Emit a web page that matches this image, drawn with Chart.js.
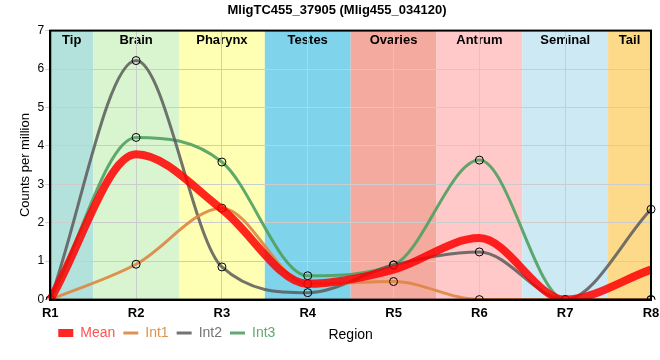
<!DOCTYPE html>
<html>
<head>
<meta charset="utf-8">
<script src="https://cdn.jsdelivr.net/npm/chart.js@4.4.0/dist/chart.umd.min.js"></script>
<style>
html, body { margin: 0; padding: 0; background: #fff; }
#wrap { width: 660px; height: 360px; }
</style>
</head>
<body>
<div id="wrap"><canvas id="chart"></canvas></div>
<script>
// DATA
const regions = ['R1', 'R2', 'R3', 'R4', 'R5', 'R6', 'R7', 'R8'];
const meanVals = [0, 3.78, 2.35, 0.41, 0.78, 1.6, 0, 0.78];
const int1Vals = [0, 0.92, 2.38, 0.41, 0.47, 0, 0, 0];
const int2Vals = [0, 6.22, 0.85, 0.18, 0.9, 1.24, 0, 2.35];
const int3Vals = [0, 4.22, 3.58, 0.62, 0.9, 3.63, 0, 0];
const bandNames = ['Tip', 'Brain', 'Pharynx', 'Testes', 'Ovaries', 'Antrum', 'Seminal', 'Tail'];
const bandColors = ['#b3e2dc', '#d9f5cf', '#ffffb4', '#7fd3eb', '#f4aa9f', '#ffc9ca', '#cdeaf4', '#fdd98a'];
const legendTextColors = ['#ff5252', '#e0924f', '#747474', '#62a872'];

const ctx = document.querySelector('canvas#chart').getContext('2d');

// background bands + region names
const bandsPlugin = {
    id: 'bands',
    beforeDraw(chart) {
        const {ctx, chartArea: area, scales: {x}} = chart;
        ctx.save();
        bandNames.forEach((name, i) => {
            const from = Math.max(0, i - 0.5);
            const to = Math.min(regions.length - 1, i + 0.5);
            const x0 = x.getPixelForValue(from);
            const x1 = x.getPixelForValue(to);
            ctx.fillStyle = bandColors[i];
            ctx.fillRect(x0, area.top, x1 - x0, area.bottom - area.top);
            ctx.fillStyle = '#000';
            ctx.font = 'bold 13px "Liberation Sans", Arial, sans-serif';
            ctx.textAlign = 'center';
            ctx.textBaseline = 'middle';
            ctx.fillText(name, (x0 + x1) / 2, area.top + 10);
        });
        ctx.restore();
    },
    afterDatasetsDraw(chart) {
        const {ctx, chartArea: area} = chart;
        ctx.save();
        ctx.strokeStyle = '#000';
        ctx.lineWidth = 2;
        ctx.strokeRect(area.left, area.top, area.right - area.left, area.bottom - area.top);
        ctx.restore();
    }
};

const font = '"Liberation Sans", Arial, sans-serif';

function lineSet(label, data, color, width, points) {
    return {
        label: label,
        data: data,
        borderColor: color,
        borderWidth: width,
        cubicInterpolationMode: 'monotone',
        pointRadius: points ? 4 : 0,
        pointBorderColor: '#000',
        pointBorderWidth: 1,
        pointBackgroundColor: 'rgba(0,0,0,0)',
        fill: false
    };
}

new Chart(ctx, {
    type: 'line',
    data: {
        labels: regions,
        datasets: [
            lineSet('Mean', meanVals, 'rgba(255,0,0,0.85)', 8, false),
            lineSet('Int1', int1Vals, 'rgba(221,134,66,0.9)', 3, true),
            lineSet('Int2', int2Vals, 'rgba(90,90,90,0.85)', 3, true),
            lineSet('Int3', int3Vals, 'rgba(80,160,95,0.9)', 3, true)
        ]
    },
    options: {
        responsive: true,
        maintainAspectRatio: false,
        animation: false,
        layout: { padding: { left: 18, right: 4, top: 0, bottom: 10 } },
        plugins: {
            title: {
                display: true,
                text: 'MligTC455_37905 (Mlig455_034120)',
                color: '#000',
                font: { family: font, size: 13, weight: 'bold' },
                padding: { top: 3, bottom: 12 }
            },
            tooltip: { enabled: false },
            legend: {
                position: 'bottom',
                align: 'start',
                fullSize: false,
                labels: {
                    usePointStyle: true,
                    pointStyleWidth: 15,
                    padding: 8,
                    font: { family: font, size: 14 },
                    generateLabels(chart) {
                        return chart.data.datasets.map((ds, i) => ({
                            text: ds.label,
                            fillStyle: ds.borderColor,
                            strokeStyle: ds.borderColor,
                            lineWidth: ds.borderWidth,
                            pointStyle: 'line',
                            fontColor: legendTextColors[i],
                            datasetIndex: i,
                            hidden: false
                        }));
                    }
                }
            }
        },
        scales: {
            x: {
                grid: { color: '#cccccc', drawTicks: false },
                border: { color: '#000', width: 2 },
                ticks: { color: '#000', padding: 6, font: { family: font, size: 13, weight: 'bold' } },
                title: {
                    display: true,
                    text: 'Region',
                    color: '#000',
                    font: { family: font, size: 14 },
                    padding: { top: 0, bottom: -26 }
                },
                afterFit(axis) {
                    axis.paddingRight = 9;
                }
            },
            y: {
                min: 0,
                max: 7,
                grid: { color: '#cccccc', tickLength: 5 },
                border: { color: '#000', width: 2 },
                ticks: { stepSize: 1, color: '#000', padding: 1, font: { family: font, size: 12 } },
                title: {
                    display: true,
                    text: 'Counts per million',
                    color: '#000',
                    font: { family: font, size: 13 },
                    padding: { top: 0, bottom: 3 }
                }
            }
        }
    },
    plugins: [bandsPlugin]
});
</script>
</body>
</html>
